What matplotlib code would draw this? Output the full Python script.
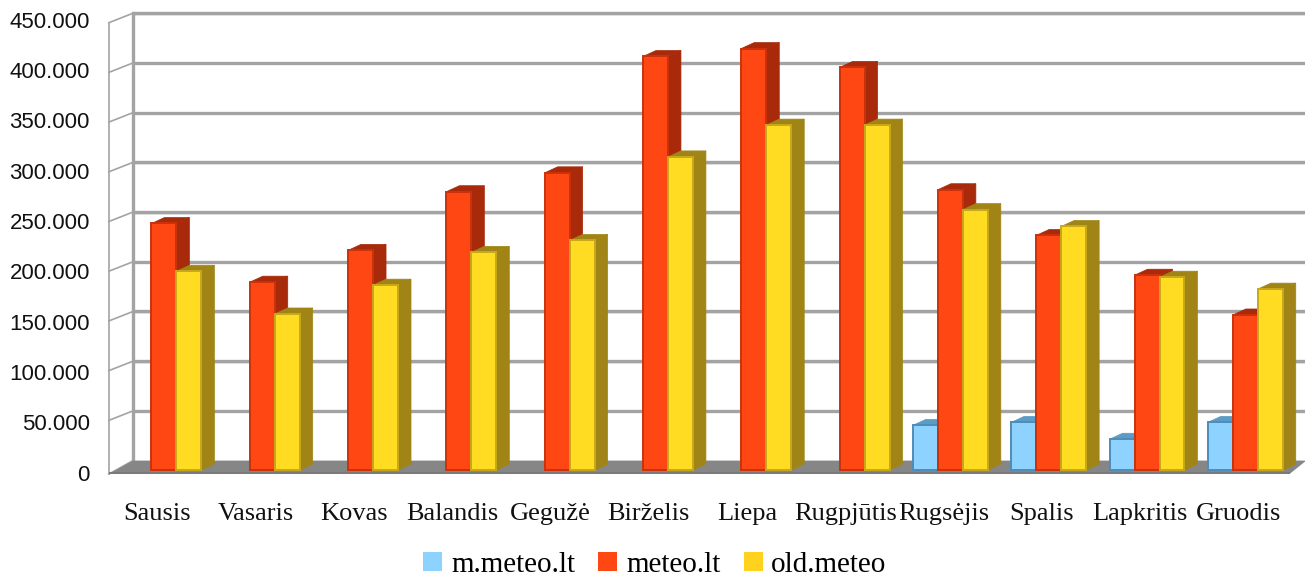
import matplotlib.pyplot as plt
from matplotlib.patches import Polygon, Patch

# monthly visits per site
months = ["Sausis", "Vasaris", "Kovas", "Balandis", "Gegužė", "Birželis",
          "Liepa", "Rugpjūtis", "Rugsėjis", "Spalis", "Lapkritis", "Gruodis"]
m_meteo = [0, 0, 0, 0, 0, 0, 0, 0, 45000, 48000, 31000, 48000]
meteo = [248000, 189000, 221000, 280000, 299000, 416000,
         424000, 405000, 282000, 236000, 196000, 156000]
old_meteo = [200000, 157000, 186000, 219000, 231000, 315000,
             347000, 347000, 262000, 245000, 194000, 182000]
yticks = [0, 50000, 100000, 150000, 200000, 250000, 300000, 350000, 400000, 450000]

series = [("m.meteo.lt", m_meteo, "#8ed2ff", "#5b9cc6", "#4f8cb8"),
          ("meteo.lt", meteo, "#ff4713", "#a82a0a", "#c9320c"),
          ("old.meteo", old_meteo, "#ffdc22", "#a08516", "#c7a81a")]

fig = plt.figure(figsize=(13.05, 5.77), dpi=100)
ax = fig.add_axes([0, 0, 1, 1])
ax.set_xlim(-1.668, 11.607)
ax.set_ylim(-107600, 472800)
ax.axis("off")

bw = 0.254          # bar width in category units
bdx, bdy = 0.132, 6000     # bar depth offset
fx0, bx0 = -0.56, -0.315   # front / back left edge of the box
wall_dy = 9500             # back wall offset
xr_front, xr_back = 11.45, 11.62

# floor
ax.add_patch(Polygon([(fx0, -4000), (xr_front, -4000), (xr_back, wall_dy), (bx0, wall_dy)],
                     closed=True, fc="#868686", ec="none", zorder=1))
ax.add_patch(Polygon([(fx0, -4000), (xr_front, -4000), (xr_front, -1500), (fx0, -1500)],
                     closed=True, fc="#7a7a7a", ec="none", zorder=1))

# back wall gridlines and left wall
for v in yticks[1:]:
    ax.plot([bx0, xr_back], [v + wall_dy, v + wall_dy], color="#a3a3a3", lw=2.4,
            solid_capstyle="butt", zorder=0.5)
    ax.plot([bx0, xr_back], [v + wall_dy - 1500, v + wall_dy - 1500], color="#e8e8e8", lw=1.2,
            zorder=0.4)
for v in yticks:
    ax.plot([fx0, bx0], [v - (4000 if v == 0 else 0), v + wall_dy], color="#a3a3a3", lw=1.2, zorder=0.6)
ax.plot([bx0, bx0], [wall_dy, yticks[-1] + wall_dy], color="#a3a3a3", lw=2.4, zorder=0.6)
ax.plot([fx0, fx0], [-4000, yticks[-1]], color="#a3a3a3", lw=1.2, zorder=0.6)

# y tick labels
for v in yticks:
    lbl = "{:,}".format(v).replace(",", ".")
    ax.text(-0.753, v - 5000 + v * 0.012, lbl, ha="right", va="center",
            fontsize=16, family="Liberation Sans", color="#111111")

# bars with side and top faces
z = 2
for i in range(len(months)):
    for k, (name, vals, front, side, edge) in enumerate(series):
        v = vals[i]
        if v <= 0:
            continue
        x0 = i + (k - 1) * bw - bw / 2
        x1 = x0 + bw
        ax.add_patch(Polygon([(x1, 0), (x1, v), (x1 + bdx, v + bdy), (x1 + bdx, bdy)],
                             closed=True, fc=side, ec=side, lw=0.5, zorder=z))
        ax.add_patch(Polygon([(x0, v), (x1, v), (x1 + bdx, v + bdy), (x0 + bdx, v + bdy)],
                             closed=True, fc=side, ec=side, lw=0.5, zorder=z))
        ax.bar(x0 + bw / 2, v, width=bw, color=front, edgecolor=edge, linewidth=1.4, zorder=z + 0.5)
        z += 1

# month labels
for i, m in enumerate(months):
    ax.text(i - 0.07, -44000, m, ha="center", va="center", fontsize=19,
            family="Liberation Serif", color="#111111")

handles = [Patch(facecolor=s[2], edgecolor="none", label=s[0]) for s in series]
handles[2] = Patch(facecolor="#ffd21f", edgecolor="none", label="old.meteo")
leg = fig.legend(handles=handles, loc="center", bbox_to_anchor=(655 / 1305, 1 - 565 / 577),
                 ncol=3, frameon=False, prop={"family": "Liberation Serif", "size": 21},
                 handlelength=0.65, handleheight=0.65, handletextpad=0.3, columnspacing=0.8)

fig.savefig("out.png", dpi=100)
